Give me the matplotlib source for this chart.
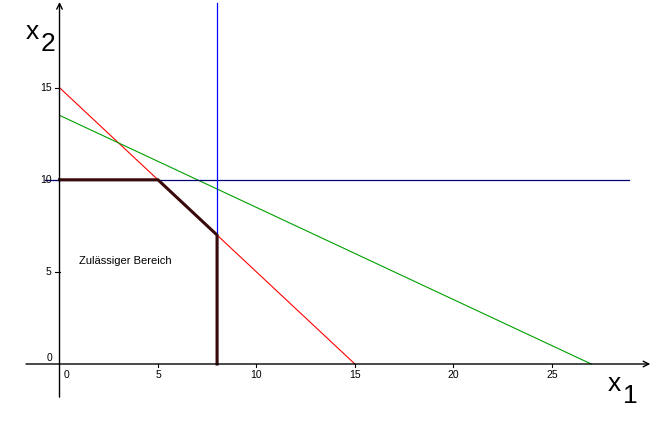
import matplotlib.pyplot as plt

# constraint lines (endpoints in data units)
red_x = [0, 15]
red_y = [15, 0]
green_x = [0, 27]
green_y = [13.5, 0]
blue_x = [8, 8]
blue_y = [0, 19.6]
hline_x = [-0.75, 28.9]
hline_y = [10, 10]
# feasible region boundary
region_x = [0, 5, 8, 8]
region_y = [10, 10, 7, 0]

xticks = [5, 10, 15, 20, 25]
yticks = [5, 10, 15]

plt.rcParams['font.family'] = ['Liberation Sans', 'DejaVu Sans']

fig = plt.figure(figsize=(6.68, 4.37), dpi=100)
ax = fig.add_axes([0, 0, 1, 1])
ax.set_xlim(-3.022, 30.90)
ax.set_ylim(-3.963, 19.76)
ax.axis('off')

# axes with arrows
ax.annotate('', xy=(30.0, 0), xytext=(-1.7, 0),
            arrowprops=dict(arrowstyle='->', color='black', lw=1, shrinkA=0, shrinkB=0))
ax.annotate('', xy=(0, 19.65), xytext=(0, -1.8),
            arrowprops=dict(arrowstyle='->', color='black', lw=1, shrinkA=0, shrinkB=0))

# ticks and labels
for t in xticks:
    ax.plot([t, t], [0, -0.17], color='black', lw=0.8)
    ax.text(t, -0.3, str(t), ha='center', va='top', fontsize=7.5)
for t in yticks:
    ax.plot([-0.25, 0], [t, t], color='black', lw=0.8)
    ax.text(-0.4, t, str(t), ha='right', va='center', fontsize=7.5)
ax.text(0.38, -0.3, '0', ha='center', va='top', fontsize=7.5)
ax.text(-0.5, 0.35, '0', ha='center', va='center', fontsize=7.5)

ax.plot(red_x, red_y, color='#ff0000', lw=0.8)
ax.plot(green_x, green_y, color='#00a000', lw=0.8)
ax.plot(hline_x, hline_y, color='#000070', lw=0.9)
ax.plot(blue_x, blue_y, color='#0000ff', lw=0.9)
ax.plot(region_x, region_y, color='#3a0a0a', lw=2.2, solid_joinstyle='miter')

ax.text(1.0, 5.6, 'Zulässiger Bereich', fontsize=8, va='center')

# axis names
ax.text(27.85, -1.45, 'x', fontsize=19, ha='left', va='baseline')
ax.text(28.6, -2.1, '1', fontsize=19, ha='left', va='baseline')
ax.text(-1.7, 17.65, 'x', fontsize=19, ha='left', va='baseline')
ax.text(-0.95, 17.0, '2', fontsize=19, ha='left', va='baseline')

fig.savefig('out.png', dpi=100)
